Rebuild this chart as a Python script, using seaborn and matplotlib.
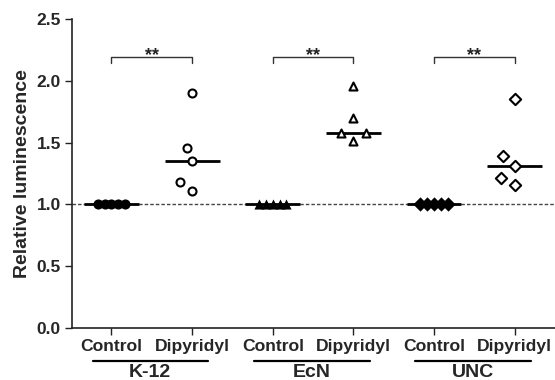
import numpy as np
import pandas as pd
import matplotlib
matplotlib.use("Agg")
import matplotlib.pyplot as plt
from matplotlib.markers import MarkerStyle
from matplotlib.transforms import Affine2D
import seaborn as sns

# ---- data ----
strains = ["K-12", "EcN", "UNC"]
treatments = ["Control", "Dipyridyl"]
k12_control = [1.0, 1.0, 1.0, 1.0, 1.0]
k12_dipyridyl = [1.90, 1.46, 1.35, 1.18, 1.11]
ecn_control = [1.0, 1.0, 1.0, 1.0, 1.0]
ecn_dipyridyl = [1.96, 1.70, 1.58, 1.58, 1.51]
unc_control = [1.0, 1.0, 1.0, 1.0, 1.0]
unc_dipyridyl = [1.85, 1.39, 1.31, 1.21, 1.16]
significance = ["**", "**", "**"]
y_ticks = [0.0, 0.5, 1.0, 1.5, 2.0, 2.5]
y_label = "Relative luminescence"
baseline = 1.0

values = {
    ("K-12", "Control"): k12_control, ("K-12", "Dipyridyl"): k12_dipyridyl,
    ("EcN", "Control"): ecn_control, ("EcN", "Dipyridyl"): ecn_dipyridyl,
    ("UNC", "Control"): unc_control, ("UNC", "Dipyridyl"): unc_dipyridyl,
}
rows = []
for s in strains:
    for t in treatments:
        for v in values[(s, t)]:
            rows.append({"strain": s, "treatment": t, "cat": f"{s} {t}", "value": v})
df = pd.DataFrame(rows)
order = [f"{s} {t}" for s in strains for t in treatments]

sns.set_style("ticks")
plt.rcParams["font.family"] = ["Liberation Sans", "DejaVu Sans"]
plt.rcParams["font.weight"] = "bold"

fig = plt.figure(figsize=(5.55, 3.8), dpi=100)
ax = fig.add_axes([0.1297, 0.1368, 0.8703, 0.8132])

ax.axhline(baseline, ls=(0, (2.5, 1.5)), color="#444444", lw=1.0, zorder=1)

# median lines
sns.boxplot(data=df, x="cat", y="value", order=order, width=0.68, ax=ax,
            showbox=False, showcaps=False, showfliers=False,
            whiskerprops={"visible": False},
            medianprops={"color": "black", "linewidth": 2.0, "zorder": 2})

markers = {"K-12": "o", "EcN": "^", "UNC": "D"}
for s in strains:
    for t in treatments:
        sub = df[df["cat"] == f"{s} {t}"]
        if t == "Control":
            mk = MarkerStyle(markers[s], transform=Affine2D().scale(1.55))
            sns.swarmplot(data=sub, x="cat", y="value", order=order, ax=ax,
                          marker=mk, size=4.7, color="black", edgecolor="black",
                          linewidth=0, zorder=3)
        else:
            mk = MarkerStyle(markers[s], transform=Affine2D().scale(0.64))
            sns.swarmplot(data=sub, x="cat", y="value", order=order, ax=ax,
                          marker=mk, size=9.0, color="white", edgecolor="black",
                          linewidth=1.5, zorder=3)

ax.set_xlim(-0.49, 5.5)
ax.set_ylim(0, 2.5)
ax.set_yticks(y_ticks)
ax.set_yticklabels([f"{v:.1f}" for v in y_ticks], fontsize=12.5, fontweight="bold")
ax.set_xticks(range(len(order)))
ax.set_xticklabels(treatments * len(strains), fontsize=12.6, fontweight="bold")
ax.set_xlabel("")
ax.set_ylabel(y_label, fontsize=14, fontweight="bold", labelpad=4)
for sp in ["top", "right"]:
    ax.spines[sp].set_visible(False)
for sp in ["left", "bottom"]:
    ax.spines[sp].set_linewidth(1.2)
    ax.spines[sp].set_color("#222222")
ax.tick_params(axis="both", length=5, width=1.0, color="#222222", pad=3)

# group labels with lines underneath the tick labels
trans = ax.get_xaxis_transform()
for i, s in enumerate(strains):
    x0, x1 = 2 * i - 0.23, 2 * i + 1 + 0.2
    ax.plot([x0, x1], [-0.107, -0.107], color="black", lw=1.6, transform=trans, clip_on=False)
    ax.text((2 * i + 2 * i + 1) / 2 - 0.02, -0.115, s, transform=trans, ha="center", va="top",
            fontsize=14, fontweight="bold")

# significance brackets
for i, sig in enumerate(significance):
    x0, x1 = 2 * i, 2 * i + 1
    ax.plot([x0, x0, x1, x1], [2.145, 2.19, 2.19, 2.145], color="#333333", lw=1.0, clip_on=False)
    ax.text((x0 + x1) / 2, 2.17, sig, ha="center", va="baseline", fontsize=13, fontweight="bold",
            color="#222222")

fig.savefig("out.png", dpi=100)
